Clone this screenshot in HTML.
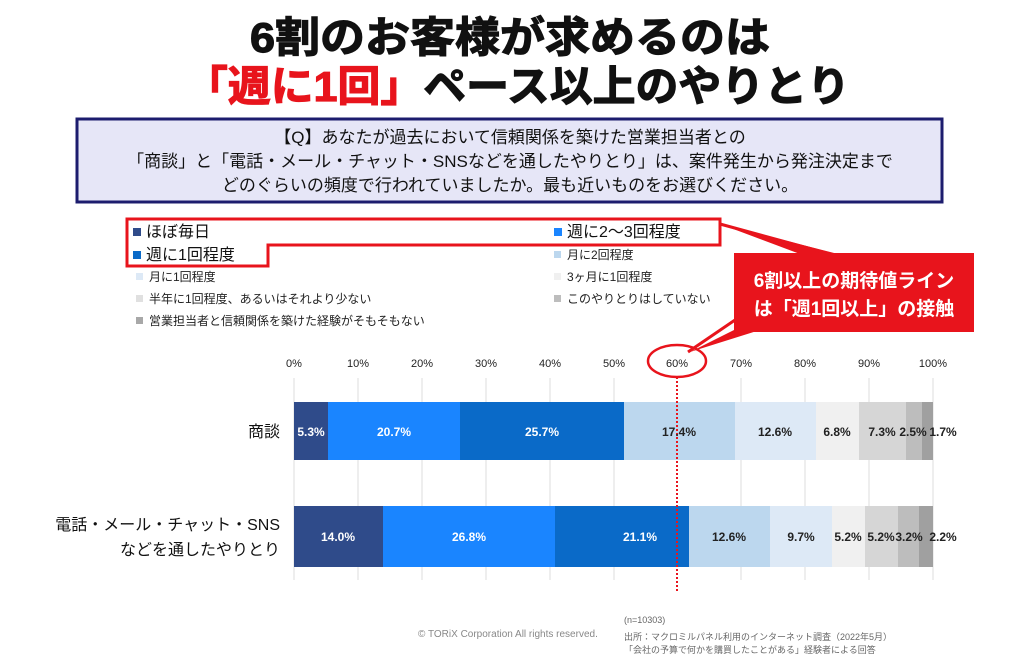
<!DOCTYPE html>
<html><head><meta charset="utf-8"><style>
body{margin:0;background:#fff;}
svg text{font-family:"Liberation Sans","Noto Sans CJK JP",sans-serif;}
</style></head><body>
<svg width="1024" height="661" viewBox="0 0 1024 661" xmlns="http://www.w3.org/2000/svg">
<rect width="1024" height="661" fill="#fff"/>
<text x="250" y="52" textLength="520" lengthAdjust="spacingAndGlyphs" font-size="42" font-weight="bold" fill="#111" stroke="#111" stroke-width="1.2">6割のお客様が求めるのは</text>
<text x="185" y="101" textLength="665" lengthAdjust="spacingAndGlyphs" font-size="42" font-weight="bold" fill="#111" stroke="#111" stroke-width="1.2"><tspan fill="#e8141c" stroke="#e8141c">「週に1回」</tspan>ペース以上のやりとり</text>
<rect x="77" y="119" width="865" height="83" fill="#e6e6f7" stroke="#1c1c6e" stroke-width="3"/>
<text x="510" y="143" text-anchor="middle" font-size="17" fill="#111">【Q】あなたが過去において信頼関係を築けた営業担当者との</text>
<text x="510" y="167" text-anchor="middle" font-size="17" fill="#111">「商談」と「電話・メール・チャット・SNSなどを通したやりとり」は、案件発生から発注決定まで</text>
<text x="510" y="191" text-anchor="middle" font-size="17" fill="#111">どのぐらいの頻度で行われていましたか。最も近いものをお選びください。</text>
<!-- legend -->
<polygon points="127,219 720,219 720,245 268,245 268,266 127,266" fill="none" stroke="#e8141c" stroke-width="3"/>
<g font-size="16" fill="#111">
<rect x="133" y="228" width="8" height="8" fill="#2f4b8a"/><text x="146" y="237">ほぼ毎日</text>
<rect x="133" y="251" width="8" height="8" fill="#0a6ac8"/><text x="146" y="260">週に1回程度</text>
<rect x="554" y="228" width="8" height="8" fill="#1a85ff"/><text x="567" y="237">週に2〜3回程度</text>
</g>
<g font-size="12" fill="#222">
<rect x="136" y="273" width="7" height="7" fill="#dde9f6"/><text x="149" y="281">月に1回程度</text>
<rect x="136" y="295" width="7" height="7" fill="#e0e0e0"/><text x="149" y="303">半年に1回程度、あるいはそれより少ない</text>
<rect x="136" y="317" width="7" height="7" fill="#a8a8a8"/><text x="149" y="325">営業担当者と信頼関係を築けた経験がそもそもない</text>
<rect x="554" y="251" width="7" height="7" fill="#bcd7ee"/><text x="567" y="259">月に2回程度</text>
<rect x="554" y="273" width="7" height="7" fill="#f0f0f0"/><text x="567" y="281">3ヶ月に1回程度</text>
<rect x="554" y="295" width="7" height="7" fill="#bdbdbd"/><text x="567" y="303">このやりとりはしていない</text>
</g>
<!-- callout -->
<polygon points="720,224 838,254 800,254" fill="#e8141c"/>
<polygon points="734,330 760,330 690,352" fill="#e8141c"/>
<line x1="720" y1="224" x2="830" y2="254" stroke="#e8141c" stroke-width="3"/>
<line x1="735" y1="320" x2="688" y2="352" stroke="#e8141c" stroke-width="3"/>
<rect x="734" y="253" width="240" height="79" fill="#e8141c"/>
<text x="854" y="287" text-anchor="middle" font-size="19" font-weight="bold" fill="#fff">6割以上の期待値ライン</text>
<text x="854" y="315" text-anchor="middle" font-size="19" font-weight="bold" fill="#fff">は「週1回以上」の接触</text>
<!-- axis -->
<g font-size="11" fill="#222" text-anchor="middle">
<text x="294" y="367">0%</text><text x="358" y="367">10%</text><text x="422" y="367">20%</text><text x="486" y="367">30%</text><text x="550" y="367">40%</text><text x="614" y="367">50%</text><text x="677" y="367">60%</text><text x="741" y="367">70%</text><text x="805" y="367">80%</text><text x="869" y="367">90%</text><text x="933" y="367">100%</text>
</g>
<g stroke="#ddd" stroke-width="1">
<line x1="294" y1="378" x2="294" y2="580"/><line x1="358" y1="378" x2="358" y2="580"/><line x1="422" y1="378" x2="422" y2="580"/><line x1="486" y1="378" x2="486" y2="580"/><line x1="550" y1="378" x2="550" y2="580"/><line x1="614" y1="378" x2="614" y2="580"/><line x1="741" y1="378" x2="741" y2="580"/><line x1="805" y1="378" x2="805" y2="580"/><line x1="869" y1="378" x2="869" y2="580"/><line x1="933" y1="378" x2="933" y2="580"/>
</g>
<ellipse cx="677" cy="361" rx="29" ry="16" fill="none" stroke="#e8141c" stroke-width="2.5"/>
<!-- row1 -->
<rect x="294" y="402" width="34" height="58" fill="#2f4b8a"/>
<rect x="328" y="402" width="132" height="58" fill="#1a85ff"/>
<rect x="460" y="402" width="164" height="58" fill="#0a6ac8"/>
<rect x="624" y="402" width="111" height="58" fill="#bcd7ee"/>
<rect x="735" y="402" width="81" height="58" fill="#dde9f6"/>
<rect x="816" y="402" width="43" height="58" fill="#f0f0f0"/>
<rect x="859" y="402" width="47" height="58" fill="#d6d6d6"/>
<rect x="906" y="402" width="16" height="58" fill="#bdbdbd"/>
<rect x="922" y="402" width="11" height="58" fill="#a0a0a0"/>
<!-- row2 -->
<rect x="294" y="506" width="89" height="61" fill="#2f4b8a"/>
<rect x="383" y="506" width="172" height="61" fill="#1a85ff"/>
<rect x="555" y="506" width="134" height="61" fill="#0a6ac8"/>
<rect x="689" y="506" width="81" height="61" fill="#bcd7ee"/>
<rect x="770" y="506" width="62" height="61" fill="#dde9f6"/>
<rect x="832" y="506" width="33" height="61" fill="#f0f0f0"/>
<rect x="865" y="506" width="33" height="61" fill="#d6d6d6"/>
<rect x="898" y="506" width="21" height="61" fill="#bdbdbd"/>
<rect x="919" y="506" width="14" height="61" fill="#a0a0a0"/>
<line x1="677" y1="377" x2="677" y2="592" stroke="#e8141c" stroke-width="2" stroke-dasharray="2,2"/>
<g font-size="12" font-weight="bold" text-anchor="middle">
<text x="311" y="436" fill="#fff">5.3%</text><text x="394" y="436" fill="#fff">20.7%</text><text x="542" y="436" fill="#fff">25.7%</text>
<text x="679" y="436" fill="#222">17.4%</text><text x="775" y="436" fill="#222">12.6%</text><text x="837" y="436" fill="#222">6.8%</text><text x="882" y="436" fill="#222">7.3%</text><text x="913" y="436" fill="#222">2.5%</text><text x="943" y="436" fill="#222">1.7%</text>
<text x="338" y="541" fill="#fff">14.0%</text><text x="469" y="541" fill="#fff">26.8%</text><text x="640" y="541" fill="#fff">21.1%</text>
<text x="729" y="541" fill="#222">12.6%</text><text x="801" y="541" fill="#222">9.7%</text><text x="848" y="541" fill="#222">5.2%</text><text x="881" y="541" fill="#222">5.2%</text><text x="909" y="541" fill="#222">3.2%</text><text x="943" y="541" fill="#222">2.2%</text>
</g>
<text x="280" y="437" text-anchor="end" font-size="16" fill="#111">商談</text>
<text x="280" y="530" text-anchor="end" font-size="16" fill="#111">電話・メール・チャット・SNS</text>
<text x="280" y="555" text-anchor="end" font-size="16" fill="#111">などを通したやりとり</text>
<text x="418" y="637" font-size="10" fill="#888" font-family="Liberation Serif">© TORiX Corporation All rights reserved.</text>
<g font-size="9" fill="#666">
<text x="624" y="623">(n=10303)</text>
<text x="624" y="640">出所：マクロミルパネル利用のインターネット調査（2022年5月）</text>
<text x="624" y="653">「会社の予算で何かを購買したことがある」経験者による回答</text>
</g>
</svg>
</body></html>
